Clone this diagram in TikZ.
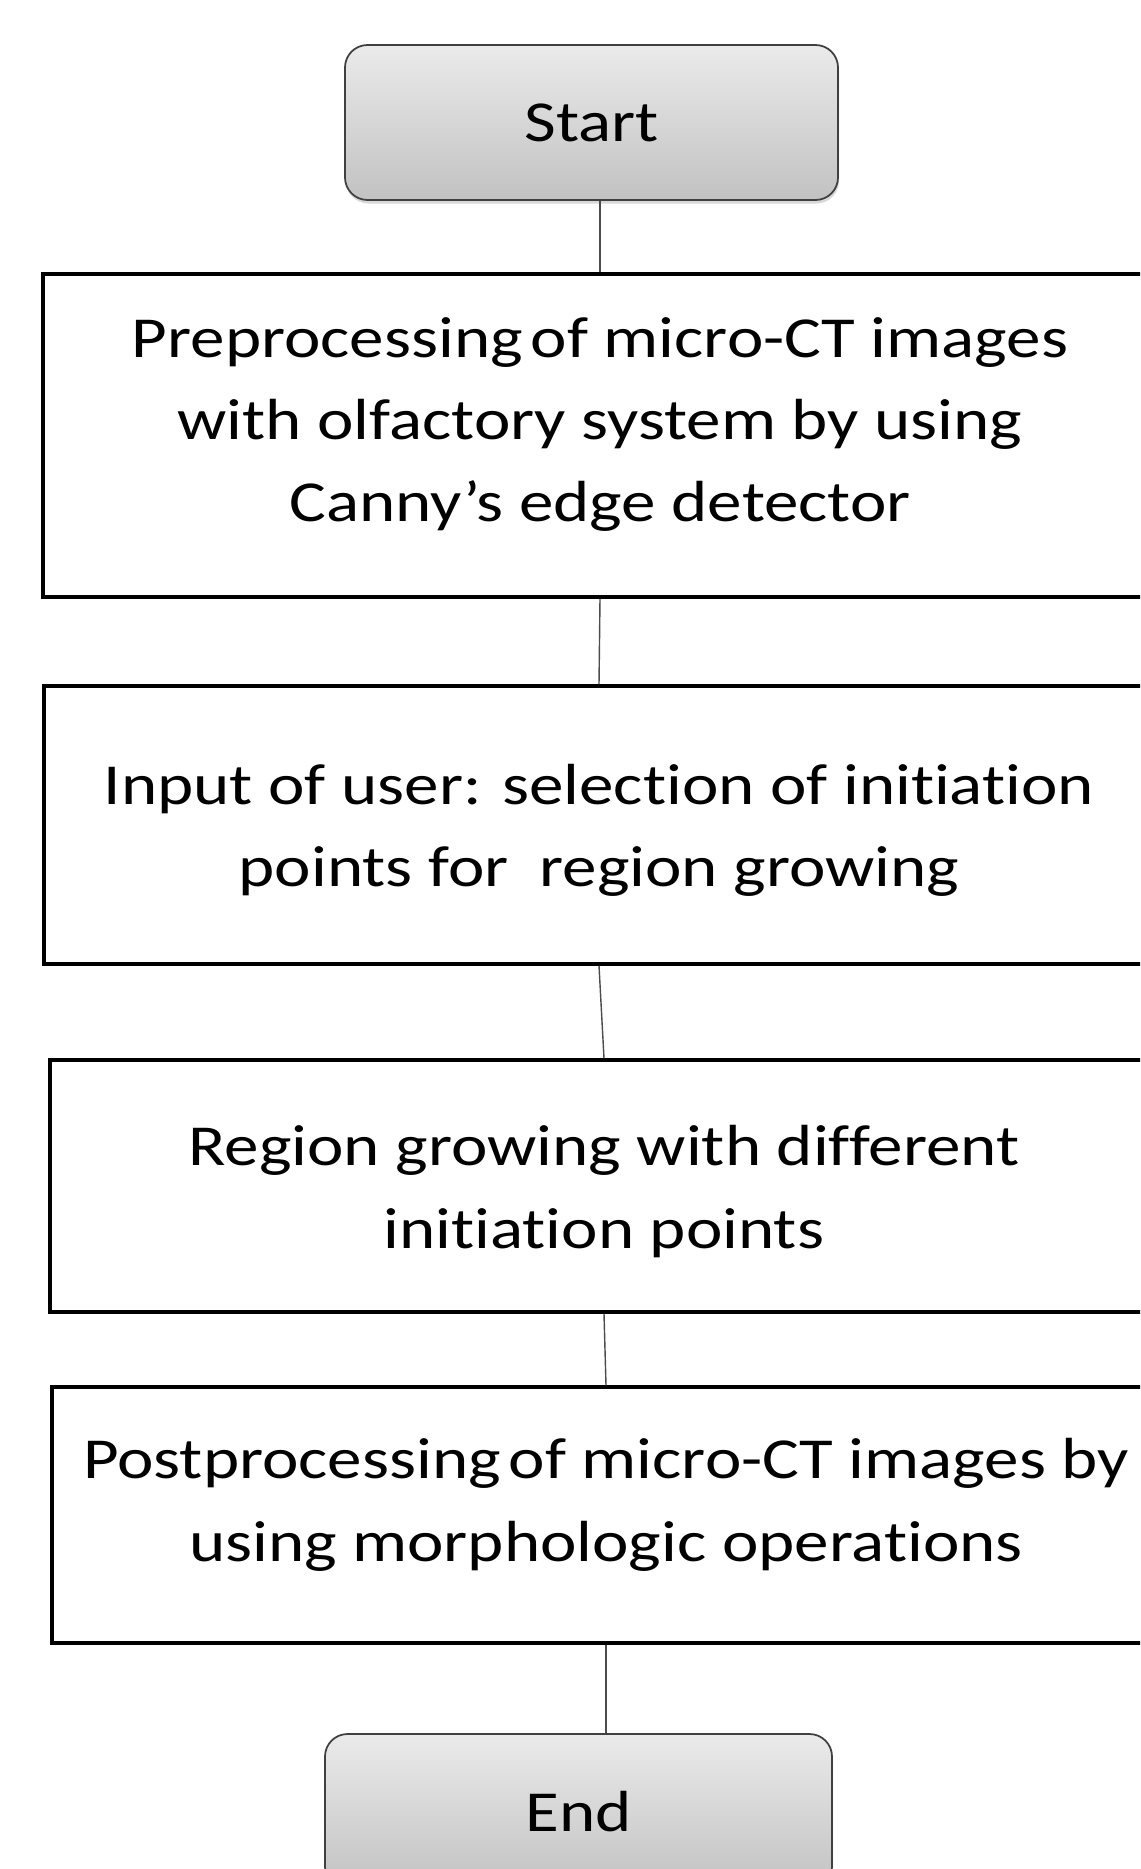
\documentclass[tikz,border=0pt]{standalone}
\usepackage{fontspec}
\setmainfont{Carlito}[FakeStretch=1.19, Ligatures={NoCommon,NoContextual}]
\usetikzlibrary{shadows}

\begin{document}
\begin{tikzpicture}[
    boxfont/.style={font=\fontsize{33}{46.9}\selectfont},
    stepbox/.style={rectangle, draw, line width=2pt, fill=white},
    steptext/.style={boxfont, align=center, inner sep=0pt},
    termbox/.style={rectangle, rounded corners=0.45cm, draw=black!75, line width=1pt, top color=black!8, bottom color=black!24, boxfont, drop shadow={opacity=0.3, shadow xshift=0.02cm, shadow yshift=-0.07cm}, minimum height=3.1cm},
    link/.style={draw=black!70, line width=0.8pt}
]
        \clip (0,0) rectangle (22.8,-37.38);
        \fill[white] (0,0) rectangle (22.8,-37.38);

        % Draw nodes
        \node[termbox, minimum width=9.86cm] (start) at (11.83,-2.45) {Start};
        \node[stepbox, minimum width=22.28cm, minimum height=6.46cm,
              label={[steptext, yshift=0.22cm]center:{Preprocessing\hspace{0.14em}of micro-CT images\\with olfactory system by using\\Canny’s edge detector}}] (prep) at (12.0,-8.71) {};
        \node[stepbox, minimum width=22.2cm, minimum height=5.56cm,
              label={[steptext, yshift=-0.11cm]center:{Input of user: selection of initiation\\points for\ \ region growing}}] (input) at (11.98,-16.5) {};
        \node[stepbox, minimum width=22.16cm, minimum height=5.04cm,
              label={[steptext, yshift=-0.11cm]center:{Region growing with different\\initiation points}}] (region) at (12.08,-23.72) {};
        \node[stepbox, minimum width=22.16cm, minimum height=5.12cm,
              label={[steptext, yshift=0.2cm]center:{Postprocessing\hspace{0.14em}of micro-CT images by\\using morphologic operations}}] (post) at (12.12,-30.3) {};
        \node[termbox, minimum width=10.14cm] (stop) at (11.57,-36.23) {End};

        % Draw connections
        \draw[link] (start.south -| prep.north) -- (prep.north);
        \draw[link] (prep.south) -- (input.north);
        \draw[link] (input.south) -- (region.north);
        \draw[link] (region.south) -- (post.north);
        \draw[link] (post.south) -- (post.south |- stop.north);
    \end{tikzpicture}
\end{document}
